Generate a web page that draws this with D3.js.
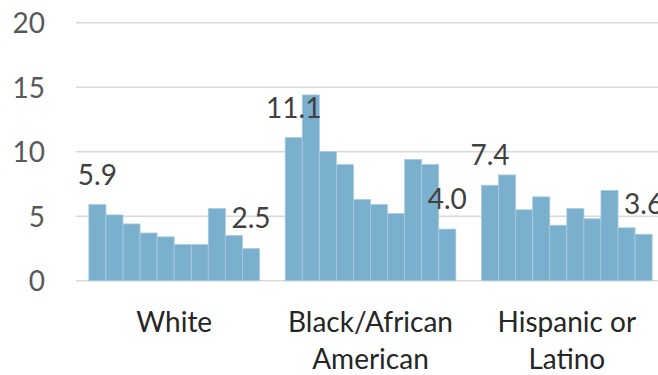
<!DOCTYPE html>
<html>
<head>
<meta charset="utf-8">
<script src="https://cdn.jsdelivr.net/npm/d3@7"></script>
<style>
  html, body { margin: 0; padding: 0; background: #fff; }
  svg { display: block; }
  text { font-family: Lato, "Open Sans", sans-serif; }
</style>
</head>
<body>
<svg id="chart" width="658" height="375"></svg>
<script>
// Group names (each may wrap to two lines)
const groups = ["White", "Black/African American", "Hispanic or Latino"];
const groupLines = [["White"], ["Black/African", "American"], ["Hispanic or", "Latino"]];

// Ten values per group
const whiteValues = [5.9, 5.1, 4.4, 3.7, 3.4, 2.8, 2.8, 5.6, 3.5, 2.5];
const blackValues = [11.1, 14.4, 10.0, 9.0, 6.3, 5.9, 5.2, 9.4, 9.0, 4.0];
const hispanicValues = [7.4, 8.2, 5.5, 6.5, 4.3, 5.6, 4.8, 7.0, 4.1, 3.6];

const yTicks = [0, 5, 10, 15, 20];

const seriesByGroup = [whiteValues, blackValues, hispanicValues];

const svg = d3.select("#chart");
const W = 658;

const y = d3.scaleLinear().domain([0, 20]).range([280.7, 22.7]);

const x0 = d3.scaleBand()
  .domain(groups)
  .range([76, 665])
  .paddingInner(0.131)
  .paddingOuter(0.0655);

const x1 = d3.scaleBand()
  .domain(d3.range(10))
  .range([0, x0.bandwidth()])
  .padding(0);

// Horizontal gridlines
svg.append("g")
  .selectAll("line")
  .data(yTicks)
  .join("line")
  .attr("x1", 76)
  .attr("x2", W)
  .attr("y1", d => y(d))
  .attr("y2", d => y(d))
  .attr("stroke", "#d9d9d9")
  .attr("stroke-width", 1.5);

// Y axis labels
const yAxis = d3.axisLeft(y).tickValues(yTicks).tickSize(0).tickPadding(0);
const yg = svg.append("g").attr("transform", "translate(45,0)").call(yAxis);
yg.select(".domain").remove();
yg.selectAll("text")
  .attr("fill", "#595959")
  .style("font-size", "28px")
  .style("font-family", "Lato, 'Open Sans', sans-serif")
  .attr("dy", "0.36em");

// Bars
const gGroups = svg.append("g")
  .selectAll("g")
  .data(groups)
  .join("g")
  .attr("transform", d => `translate(${x0(d)},0)`);

gGroups.selectAll("rect")
  .data((g, gi) => seriesByGroup[gi].map((v, i) => ({ v, i })))
  .join("rect")
  .attr("x", d => x1(d.i))
  .attr("width", x1.bandwidth())
  .attr("y", d => y(d.v))
  .attr("height", d => y(0) - y(d.v))
  .attr("fill", "#7ab0cd")
  .attr("stroke", "#a9cbdf")
  .attr("stroke-width", 0.8);

// Value labels on the first and last bar of each group
gGroups.selectAll("text.val")
  .data((g, gi) => {
    const vals = seriesByGroup[gi];
    return [{ v: vals[0], i: 0 }, { v: vals[vals.length - 1], i: vals.length - 1 }];
  })
  .join("text")
  .attr("class", "val")
  .attr("x", d => x1(d.i) + x1.bandwidth() / 2)
  .attr("y", d => y(d.v) - 20)
  .attr("text-anchor", "middle")
  .attr("fill", "#404040")
  .style("font-size", "28px")
  .text(d => d.v.toFixed(1));

// Category labels under the groups
const cat = svg.append("g")
  .selectAll("text")
  .data(groups)
  .join("text")
  .attr("x", d => x0(d) + x0.bandwidth() / 2)
  .attr("y", 331.7)
  .attr("text-anchor", "middle")
  .attr("fill", "#262626")
  .style("font-size", "28px");

cat.each(function(d, i) {
  d3.select(this).selectAll("tspan")
    .data(groupLines[i])
    .join("tspan")
    .attr("x", x0(d) + x0.bandwidth() / 2)
    .attr("dy", (t, j) => j === 0 ? 0 : 37)
    .text(t => t);
});
</script>
</body>
</html>
